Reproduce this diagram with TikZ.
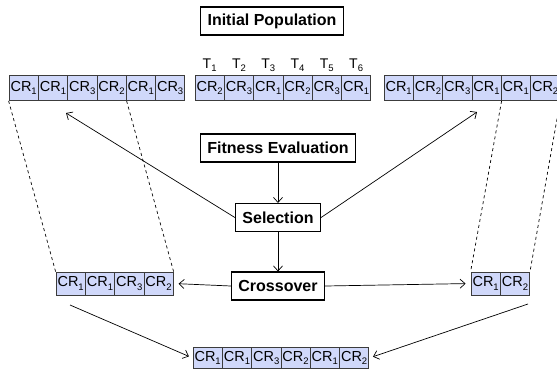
\documentclass[tikz,border=0pt]{standalone}
\usepackage{fontspec}
\setmainfont{Liberation Sans}
\usetikzlibrary{arrows.meta}
\definecolor{cellfill}{RGB}{208,216,250}
\definecolor{celledge}{RGB}{60,60,60}
\newcommand{\lowidx}[1]{\raisebox{-0.45ex}{\fontsize{9.5}{10}\selectfont #1}}
\begin{document}
\begin{tikzpicture}[x=1pt,y=-1pt,
    cell/.style={draw=celledge,fill=cellfill,line width=0.8pt,minimum width=29.3pt,minimum height=25pt,inner sep=0pt,font=\fontsize{14.5}{16}\selectfont},
    stepbox/.style={draw,line width=1.1pt,minimum height=28pt,inner xsep=7pt,font=\fontsize{16}{19}\selectfont\bfseries},
    tlabel/.style={inner sep=1pt,font=\fontsize{14}{16}\selectfont},
    link/.style={line width=0.7pt,-{Straight Barb[length=5pt,width=9pt]}},
    cut/.style={dashed,line width=0.7pt}]
    \useasboundingbox (0,0) rectangle (557,376);
    \node[stepbox] (init) at (272,21) {Initial Population};
    \node[cell] (l1) at (23.65,88) {CR\lowidx{1}};
    \node[cell] (l2) at (52.95,88) {CR\lowidx{1}};
    \node[cell] (l3) at (82.25,88) {CR\lowidx{3}};
    \node[cell] (l4) at (111.55,88) {CR\lowidx{2}};
    \node[cell] (l5) at (140.85,88) {CR\lowidx{1}};
    \node[cell] (l6) at (170.15,88) {CR\lowidx{3}};
    \node[cell] (m1) at (209.65,88) {CR\lowidx{2}};
    \node[cell] (m2) at (238.95,88) {CR\lowidx{3}};
    \node[cell] (m3) at (268.25,88) {CR\lowidx{1}};
    \node[cell] (m4) at (297.55,88) {CR\lowidx{2}};
    \node[cell] (m5) at (326.85,88) {CR\lowidx{3}};
    \node[cell] (m6) at (356.15,88) {CR\lowidx{1}};
    \node[cell] (r1) at (398.65,88) {CR\lowidx{1}};
    \node[cell] (r2) at (427.95,88) {CR\lowidx{2}};
    \node[cell] (r3) at (457.25,88) {CR\lowidx{3}};
    \node[cell] (r4) at (486.55,88) {CR\lowidx{1}};
    \node[cell] (r5) at (515.85,88) {CR\lowidx{1}};
    \node[cell] (r6) at (545.15,88) {CR\lowidx{2}};
    \node[tlabel] (t1) at (209.65,65) {T\lowidx{1}};
    \node[tlabel] (t2) at (238.95,65) {T\lowidx{2}};
    \node[tlabel] (t3) at (268.25,65) {T\lowidx{3}};
    \node[tlabel] (t4) at (297.55,65) {T\lowidx{4}};
    \node[tlabel] (t5) at (326.85,65) {T\lowidx{5}};
    \node[tlabel] (t6) at (356.15,65) {T\lowidx{6}};
    \node[stepbox] (fit) at (278,148) {Fitness Evaluation};
    \node[stepbox] (sel) at (278,217.5) {Selection};
    \node[stepbox] (cross) at (278,286) {Crossover};
    \node[cell,minimum height=23pt] (a1) at (70.65,283.5) {CR\lowidx{1}};
    \node[cell,minimum height=23pt] (a2) at (99.95,283.5) {CR\lowidx{1}};
    \node[cell,minimum height=23pt] (a3) at (129.25,283.5) {CR\lowidx{3}};
    \node[cell,minimum height=23pt] (a4) at (158.55,283.5) {CR\lowidx{2}};
    \node[cell,minimum height=23pt] (b1) at (485.65,283.5) {CR\lowidx{1}};
    \node[cell,minimum height=23pt] (b2) at (514.95,283.5) {CR\lowidx{2}};
    \node[cell,minimum height=21pt] (c1) at (207.65,358) {CR\lowidx{1}};
    \node[cell,minimum height=21pt] (c2) at (236.95,358) {CR\lowidx{1}};
    \node[cell,minimum height=21pt] (c3) at (266.25,358) {CR\lowidx{3}};
    \node[cell,minimum height=21pt] (c4) at (295.55,358) {CR\lowidx{2}};
    \node[cell,minimum height=21pt] (c5) at (324.85,358) {CR\lowidx{1}};
    \node[cell,minimum height=21pt] (c6) at (354.15,358) {CR\lowidx{2}};
    \coordinate (lsel) at (66,113);
    \coordinate (rsel) at (477,112);
    \coordinate (adown) at (70,305);
    \coordinate (bdown) at (528,304);
    \draw[cut] (l1.south west) -- (a1.north west);
    \draw[cut] (l4.south east) -- (a4.north east);
    \draw[cut] (r4.south east) -- (b1.north west);
    \draw[cut] (r6.south east) -- (b2.north east);
    \draw[link] (fit) -- (sel);
    \draw[link] (sel) -- (cross);
    \draw[link] (sel.west) -- (lsel);
    \draw[link] (sel.east) -- (rsel);
    \draw[link,shorten >=5pt] (cross.west) -- (a4.east);
    \draw[link,shorten >=5pt] (cross.east) -- (b1.west);
    \draw[link,shorten >=4pt] (adown) -- (c1.west);
    \draw[link,shorten >=4pt] (bdown) -- (c6.east);
\end{tikzpicture}
\end{document}
